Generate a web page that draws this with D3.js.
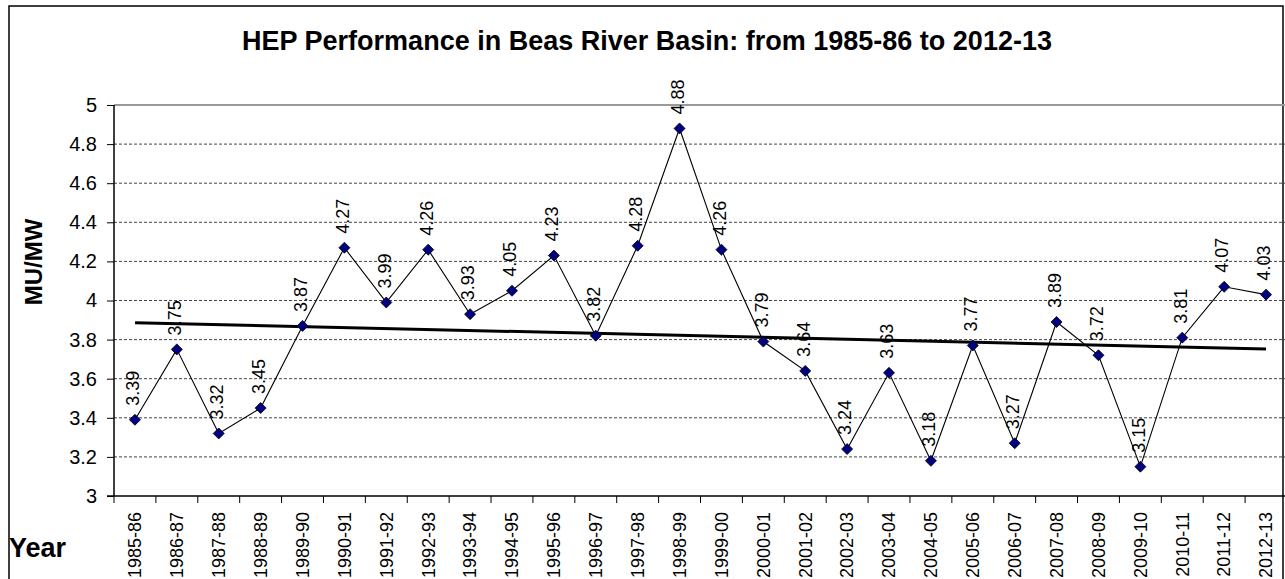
<!DOCTYPE html>
<html>
<head>
<meta charset="utf-8">
<script src="https://cdn.jsdelivr.net/npm/d3@7"></script>
<style>
  body { margin: 0; background: #fff; }
  svg { display: block; font-family: "Liberation Sans", Arial, sans-serif; }
  .grid line { stroke: #444; stroke-dasharray: 3,2; }
  .pt-label { font-size: 18px; }
</style>
</head>
<body>
<svg></svg>
<script>
const w = 1285;
const h = 579;

// Data
const years = ["1985-86", "1986-87", "1987-88", "1988-89", "1989-90", "1990-91", "1991-92",
  "1992-93", "1993-94", "1994-95", "1995-96", "1996-97", "1997-98", "1998-99", "1999-00",
  "2000-01", "2001-02", "2002-03", "2003-04", "2004-05", "2005-06", "2006-07", "2007-08",
  "2008-09", "2009-10", "2010-11", "2011-12", "2012-13"];
const muPerMw = [3.39, 3.75, 3.32, 3.45, 3.87, 4.27, 3.99, 4.26, 3.93, 4.05, 4.23, 3.82,
  4.28, 4.88, 4.26, 3.79, 3.64, 3.24, 3.63, 3.18, 3.77, 3.27, 3.89, 3.72, 3.15, 3.81, 4.07, 4.03];
const yTicks = [3, 3.2, 3.4, 3.6, 3.8, 4, 4.2, 4.4, 4.6, 4.8, 5];

const data = years.map((y, i) => ({ year: y, v: muPerMw[i] }));

const svg = d3.select("svg")
    .attr("width", w)
    .attr("height", h);

// outer chart border
svg.append("rect")
    .attr("x", 9).attr("y", 6)
    .attr("width", 1274).attr("height", 620)
    .attr("fill", "none")
    .attr("stroke", "#000")
    .attr("stroke-width", 1.5);

const pLeft = 114, pRight = 1287, pTop = 105, pBottom = 496;

const x = d3.scaleBand().domain(years).range([pLeft, pRight]);
const y = d3.scaleLinear().domain([3, 5]).range([pBottom, pTop]);
const cx = d => x(d) + x.bandwidth() / 2;

// title
svg.append("text")
    .attr("x", 647).attr("y", 50)
    .attr("text-anchor", "middle")
    .attr("font-size", 27)
    .attr("font-weight", "bold")
    .text("HEP Performance in Beas River Basin: from 1985-86 to 2012-13");

// gridlines
svg.append("g")
    .attr("class", "grid")
    .selectAll("line")
    .data(yTicks.filter(t => t > 3 && t < 5))
    .enter()
    .append("line")
    .attr("x1", pLeft).attr("x2", pRight)
    .attr("y1", d => y(d)).attr("y2", d => y(d));

// plot frame top
svg.append("line")
    .attr("x1", pLeft).attr("x2", pRight)
    .attr("y1", pTop).attr("y2", pTop)
    .attr("stroke", "#999").attr("stroke-width", 2);

// y axis
const yAxis = svg.append("g")
    .attr("transform", `translate(${pLeft},0)`)
    .call(d3.axisLeft(y).tickValues(yTicks).tickFormat(d3.format("")).tickSize(7).tickPadding(10));
yAxis.select(".domain").attr("stroke", "#000").attr("stroke-width", 1.5).attr("d", `M0,${pTop}V${pBottom}`);
yAxis.selectAll("text").attr("font-size", 20).attr("font-family", "Liberation Sans, Arial, sans-serif").attr("fill", "#000");

// x axis
const xAxis = svg.append("g")
    .attr("transform", `translate(0,${pBottom})`)
    .call(d3.axisBottom(x).tickSize(0).tickFormat(""));
xAxis.select(".domain").attr("stroke", "#000").attr("stroke-width", 1.5).attr("d", `M${pLeft - 7},0H${pRight}`);

svg.append("g")
    .selectAll("line")
    .data(d3.range(years.length + 1))
    .enter()
    .append("line")
    .attr("x1", i => pLeft + i * x.bandwidth())
    .attr("x2", i => pLeft + i * x.bandwidth())
    .attr("y1", pBottom).attr("y2", pBottom + 7)
    .attr("stroke", "#000");

svg.append("g")
    .selectAll("text")
    .data(years)
    .enter()
    .append("text")
    .attr("transform", d => `translate(${cx(d)},512) rotate(-90)`)
    .attr("text-anchor", "end")
    .attr("dy", "0.35em")
    .attr("font-size", 18)
    .text(d => d);

// axis titles
svg.append("text")
    .attr("transform", "translate(42,262) rotate(-90)")
    .attr("text-anchor", "middle")
    .attr("font-size", 24)
    .attr("font-weight", "bold")
    .text("MU/MW");

svg.append("text")
    .attr("x", 9).attr("y", 557)
    .attr("font-size", 27)
    .attr("font-weight", "bold")
    .text("Year");

// trend line (least squares)
const n = data.length;
const xs = d3.range(n);
const mx = d3.mean(xs), my = d3.mean(muPerMw);
const slope = d3.sum(xs, i => (i - mx) * (muPerMw[i] - my)) / d3.sum(xs, i => (i - mx) ** 2);
const icpt = my - slope * mx;

svg.append("line")
    .attr("x1", cx(years[0])).attr("y1", y(icpt))
    .attr("x2", cx(years[n - 1])).attr("y2", y(icpt + slope * (n - 1)))
    .attr("stroke", "#000")
    .attr("stroke-width", 3);

// series
svg.append("path")
    .datum(data)
    .attr("fill", "none")
    .attr("stroke", "#000")
    .attr("stroke-width", 1.1)
    .attr("d", d3.line().x(d => cx(d.year)).y(d => y(d.v)));

svg.append("g")
    .selectAll("path")
    .data(data)
    .enter()
    .append("path")
    .attr("transform", d => `translate(${cx(d.year)},${y(d.v)})`)
    .attr("d", "M0,-5.5L5.5,0L0,5.5L-5.5,0Z")
    .attr("fill", "#000080")
    .attr("stroke", "#000")
    .attr("stroke-width", 0.8);

svg.append("g")
    .selectAll("text")
    .data(data)
    .enter()
    .append("text")
    .attr("class", "pt-label")
    .attr("transform", d => `translate(${cx(d.year) - 2},${y(d.v) - 14}) rotate(-90)`)
    .attr("dy", "0.35em")
    .text(d => d.v.toFixed(2));
</script>
</body>
</html>
